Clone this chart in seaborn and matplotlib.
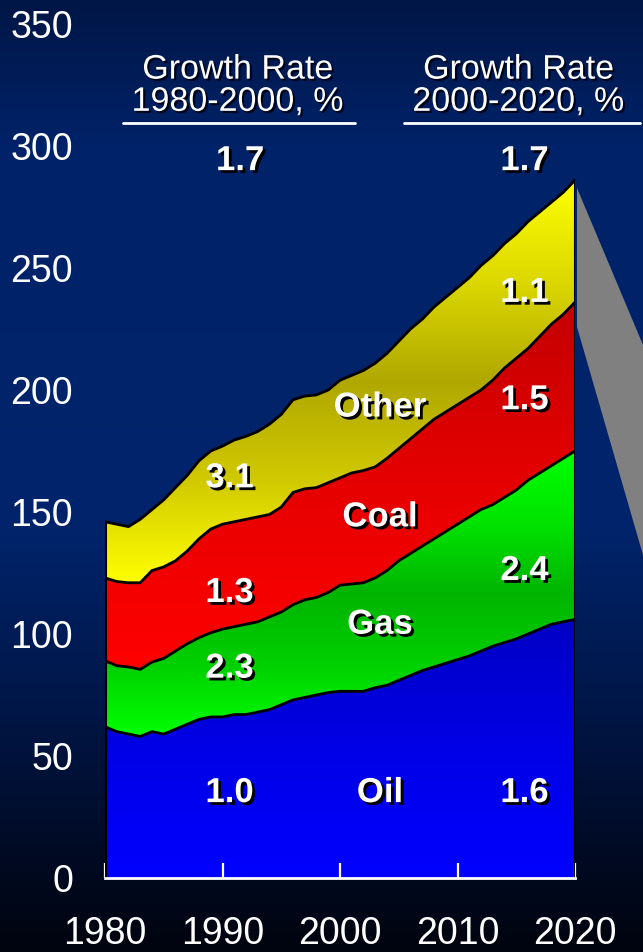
import numpy as np
import matplotlib
matplotlib.use('Agg')
import matplotlib.pyplot as plt
import matplotlib.patheffects as pe
from matplotlib.colors import LinearSegmentedColormap
from matplotlib.patches import Polygon
from matplotlib.lines import Line2D
import seaborn as sns

# world energy demand by fuel
years = list(range(1980, 2021))
oil = [62, 60, 59, 58, 60, 59, 61, 63, 65, 66,
       66, 67, 67, 68, 69, 71, 73, 74, 75, 76,
       76.5, 76.5, 76.5, 78, 79, 81, 83, 85, 86.5, 88,
       89.5, 91, 93, 95, 96.5, 98, 100, 102, 104, 105,
       106]
gas = [27, 27, 27.5, 27.5, 28.5, 31, 32, 33, 33.5, 34.5,
       36, 36, 37, 37, 38, 38, 39, 40, 40, 41,
       43.5, 44, 44.5, 45, 47, 49, 50, 51, 52.5, 54,
       55.5, 57, 58, 58, 59.5, 61, 63, 64, 65, 67,
       69]
coal = [34, 34.5, 34.5, 35.5, 37.5, 37.5, 37, 38, 40.5, 42.5,
        43, 43, 43, 43, 42, 43, 46, 45.5, 45, 45,
        44, 45.5, 46, 45.5, 46, 46, 47, 48, 49, 49,
        49, 49, 49, 51, 53, 54, 54, 56, 58, 59,
        61]
other = [23, 23.5, 23, 26, 25, 27.5, 30, 31, 32, 32,
         32, 33.5, 34, 35, 37, 38, 38, 38, 38, 38,
         40, 40, 41, 42.5, 43, 44, 45, 45, 46, 47,
         48, 49, 51, 51, 51, 51, 52, 51, 50, 50,
         50]

# growth rates shown on the chart
rate_total = ["1.7", "1.7"]
rates_80_00 = {"Other": "3.1", "Coal": "1.3", "Gas": "2.3", "Oil": "1.0"}
rates_00_20 = {"Other": "1.1", "Coal": "1.5", "Gas": "2.4", "Oil": "1.6"}
yticks = [0, 50, 100, 150, 200, 250, 300, 350]
xticks = [1980, 1990, 2000, 2010, 2020]

sns.set_theme(style="dark")
plt.rcParams['font.family'] = ['Liberation Sans', 'DejaVu Sans']

fig = plt.figure(figsize=(6.43, 9.52), dpi=100)

# background gradient (navy to black)
bg = fig.add_axes([0, 0, 1, 1], zorder=-10)
bg_cmap = LinearSegmentedColormap.from_list('bg', [
    (0.0, (0/255, 4/255, 14/255)),
    (0.10, (0/255, 10/255, 35/255)),
    (0.25, (0/255, 22/255, 70/255)),
    (0.45, (0/255, 36/255, 108/255)),
    (0.85, (0/255, 34/255, 104/255)),
    (1.0, (0/255, 22/255, 70/255))])
bg.imshow(np.linspace(0, 1, 512).reshape(-1, 1), cmap=bg_cmap, origin='lower',
          aspect='auto', extent=[0, 1, 0, 1])
bg.axis('off')

# grey wedge on the right
wedge_px = [(577, 188), (643, 345), (643, 555), (577, 327)]
fig.patches.append(Polygon([(x / 643, 1 - y / 952) for x, y in wedge_px],
                           closed=True, facecolor='#808080', edgecolor='none',
                           transform=fig.transFigure, zorder=0))

ax = fig.add_axes([105 / 643, 74 / 952, 470 / 643, 854 / 952])
ax.set_facecolor('none')

x = np.array(years, dtype=float)
layers = [np.array(v, dtype=float) for v in (oil, gas, coal, other)]
tops = np.cumsum(layers, axis=0)
bottoms = np.vstack([np.zeros_like(x), tops[:-1]])

# colour stops listed bottom -> top of each layer's box
stops = [
    ['#0000FF', '#0000E6', '#0000C4'],
    ['#00FF00', '#00D000', '#00B400', '#00E400', '#00FF00'],
    ['#FF0000', '#E60000', '#C40000'],
    ['#FFFF00', '#D2CA00', '#B0A800', '#DCD800', '#FFFF00'],
]

for lo, hi, st in zip(bottoms, tops, stops):
    poly = ax.fill_between(x, lo, hi, facecolor='none', edgecolor='none')
    cmap = LinearSegmentedColormap.from_list('g', st)
    im = ax.imshow(np.linspace(0, 1, 256).reshape(-1, 1), cmap=cmap, origin='lower',
                   aspect='auto', extent=[x[0], x[-1], lo.min(), hi.max()], zorder=1)
    im.set_clip_path(poly.get_paths()[0], transform=ax.transData)

for hi in tops:
    sns.lineplot(x=x, y=hi, color='black', linewidth=2, ax=ax, zorder=3)
ax.vlines([x[0], x[-1]], 0, [tops[-1][0], tops[-1][-1]], color='black', linewidth=2.2, zorder=3)

ax.set_xlim(1980, 2020)
ax.set_ylim(0, 350)
ax.set_xticks(xticks)
ax.set_yticks(yticks)
ax.set_xlabel('')
ax.set_ylabel('')
ax.grid(False)
for s in ['top', 'right', 'left']:
    ax.spines[s].set_visible(False)
ax.spines['bottom'].set_color('white')
ax.spines['bottom'].set_linewidth(2)
ax.spines['bottom'].set_zorder(5)
ax.set_axisbelow(False)
ax.tick_params(axis='x', direction='in', length=11, width=1.6, color='white',
               pad=27, labelsize=27, labelcolor='white', bottom=True)
ax.tick_params(axis='y', length=0, pad=23, labelsize=27, labelcolor='white')

shadow = [pe.SimplePatchShadow(offset=(2, -2), shadow_rgbFace='black', alpha=1), pe.Normal()]
dark_shadow = [pe.SimplePatchShadow(offset=(1.5, -1.5), shadow_rgbFace='#000010', alpha=0.9), pe.Normal()]

def label(xv, yv, s):
    ax.text(xv, yv, s, color='white', fontsize=25, fontweight='bold', ha='center',
            va='center', path_effects=shadow, zorder=6)

left_x, mid_x, right_x = 1990.6, 2003.4, 2015.7
label(1991.5, 294, rate_total[0])
label(right_x, 294, rate_total[1])
label(left_x, 164, rates_80_00["Other"])
label(left_x, 117, rates_80_00["Coal"])
label(left_x, 86, rates_80_00["Gas"])
label(left_x, 35, rates_80_00["Oil"])
label(right_x, 240, rates_00_20["Other"])
label(right_x, 196, rates_00_20["Coal"])
label(right_x, 126, rates_00_20["Gas"])
label(right_x, 35, rates_00_20["Oil"])
label(mid_x, 193, "Other")
label(mid_x, 148, "Coal")
label(mid_x, 104, "Gas")
label(mid_x, 35, "Oil")

for cx, period in [(1991.3, "1980-2000, %"), (2015.2, "2000-2020, %")]:
    ax.text(cx, 324.5, "Growth Rate\n" + period, color='white', fontsize=24.5, ha='center',
            va='center', linespacing=1.05, path_effects=dark_shadow, zorder=6)

for x0, x1 in [(123, 355), (404, 640)]:
    fig.lines.append(Line2D([x0 / 643, x1 / 643], [1 - 123 / 952] * 2, color='white',
                            linewidth=2, transform=fig.transFigure))

fig.savefig('out.png', dpi=100)
